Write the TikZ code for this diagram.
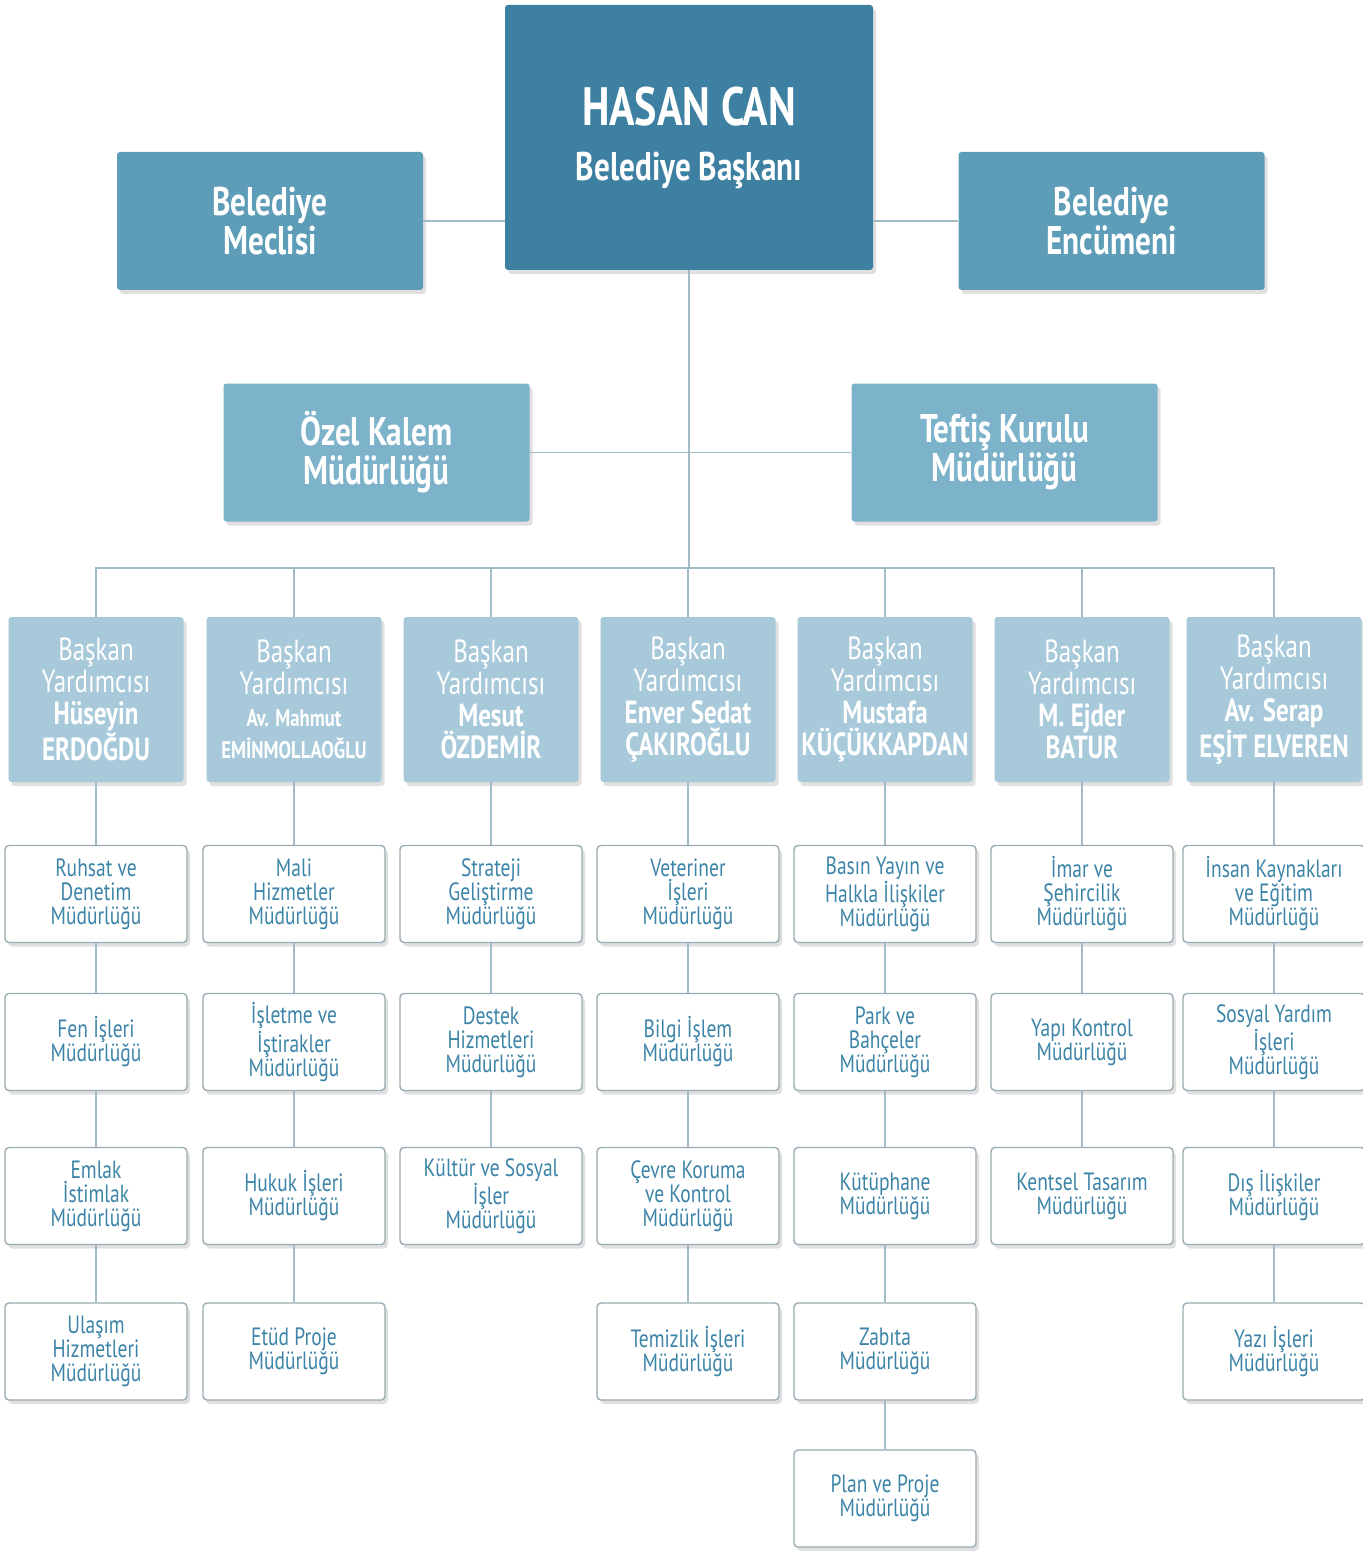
\documentclass[tikz,border=0pt]{standalone}
\usepackage{fontspec}
\setmainfont{PT Sans}[FakeStretch=0.78]
\usetikzlibrary{shadows}

\definecolor{topclr}{HTML}{3D80A1}
\definecolor{sideclr}{HTML}{5E9DB8}
\definecolor{midclr}{HTML}{7DB3CA}
\definecolor{depclr}{HTML}{A7C9DA}
\definecolor{txtclr}{HTML}{3C84A8}
\definecolor{edgeclr}{HTML}{9AABB3}
\definecolor{lineclr}{HTML}{A3BAC7}

\tikzset{
  conn/.style={draw=lineclr, line width=0.75pt},
  shade box/.style={drop shadow={shadow xshift=1.5pt, shadow yshift=-2pt, opacity=0.12, fill=black}},
  mayorbox/.style={fill=topclr, text=white, align=center, inner sep=0pt, rounded corners=1.5pt, shade box,
    minimum width=184pt, minimum height=132.5pt, font=\bfseries\fontsize{20}{27.5}\selectfont},
  councilbox/.style={fill=sideclr, text=white, align=center, inner sep=0pt, rounded corners=1.5pt, shade box,
    minimum width=153pt, minimum height=69pt, font=\bfseries\fontsize{20}{19.5}\selectfont},
  officebox/.style={councilbox, fill=midclr},
  deputybox/.style={fill=depclr, text=white, align=center, inner sep=0pt, rounded corners=1.5pt, shade box,
    minimum width=87.5pt, minimum height=82.5pt, font=\fontsize{16}{16}\selectfont},
  unitbox/.style={fill=white, draw=edgeclr, line width=0.7pt, text=txtclr, align=center, inner sep=0pt,
    rounded corners=2pt, shade box, minimum width=91pt, minimum height=48.5pt, font=\fontsize{12.5}{12}\selectfont},
}

\begin{document}
\begin{tikzpicture}[x=0.5pt, y=-0.5pt]
  \useasboundingbox[fill=white] (0,0) rectangle (1362,1551);

  % mayor and councils
  \node[mayorbox] (mayor) at (689,137.5) {{\fontsize{27}{27.5}\selectfont HASAN CAN}\\Belediye Başkanı};
  \node[councilbox] (meclis) at (270,221) {Belediye\\Meclisi};
  \node[councilbox] (encumen) at (1111.5,221) {Belediye\\Encümeni};

  % offices
  \node[officebox] (ozel) at (376.5,452.5) {Özel Kalem\\Müdürlüğü};
  \node[officebox] (teftis) at (1004.5,452.5) {Teftiş Kurulu\\Müdürlüğü};

  % deputy mayors
  \node[deputybox] (dep1) at (96,699.5) {Başkan\\Yardımcısı\\\textbf{Hüseyin}\\\textbf{ERDOĞDU}};
  \node[deputybox] (dep2) at (294,699.5) {Başkan\\Yardımcısı\\{\bfseries\fontsize{12}{16}\selectfont Av. Mahmut}\\{\bfseries\fontsize{12}{16}\selectfont EMİNMOLLAOĞLU}};
  \node[deputybox] (dep3) at (491,699.5) {Başkan\\Yardımcısı\\\textbf{Mesut}\\\textbf{ÖZDEMİR}};
  \node[deputybox] (dep4) at (688,699.5) {Başkan\\Yardımcısı\\\textbf{Enver Sedat}\\\textbf{ÇAKIROĞLU}};
  \node[deputybox] (dep5) at (885,699.5) {Başkan\\Yardımcısı\\\textbf{Mustafa}\\\textbf{KÜÇÜKKAPDAN}};
  \node[deputybox] (dep6) at (1082,699.5) {Başkan\\Yardımcısı\\\textbf{M. Ejder}\\\textbf{BATUR}};
  \node[deputybox] (dep7) at (1274,699.5) {Başkan\\Yardımcısı\\\textbf{Av. Serap}\\\textbf{EŞİT ELVEREN}};

  % directorates, column 1
  \node[unitbox] (u11) at (96,894) {Ruhsat ve\\Denetim\\Müdürlüğü};
  \node[unitbox] (u12) at (96,1042) {Fen İşleri\\Müdürlüğü};
  \node[unitbox] (u13) at (96,1196) {Emlak\\İstimlak\\Müdürlüğü};
  \node[unitbox] (u14) at (96,1351.5) {Ulaşım\\Hizmetleri\\Müdürlüğü};
  % column 2
  \node[unitbox] (u21) at (294,894) {Mali\\Hizmetler\\Müdürlüğü};
  \node[unitbox] (u22) at (294,1042) {İşletme ve\\İştirakler\\Müdürlüğü};
  \node[unitbox] (u23) at (294,1196) {Hukuk İşleri\\Müdürlüğü};
  \node[unitbox] (u24) at (294,1351.5) {Etüd Proje\\Müdürlüğü};
  % column 3
  \node[unitbox] (u31) at (491,894) {Strateji\\Geliştirme\\Müdürlüğü};
  \node[unitbox] (u32) at (491,1042) {Destek\\Hizmetleri\\Müdürlüğü};
  \node[unitbox] (u33) at (491,1196) {Kültür ve Sosyal\\İşler\\Müdürlüğü};
  % column 4
  \node[unitbox] (u41) at (688,894) {Veteriner\\İşleri\\Müdürlüğü};
  \node[unitbox] (u42) at (688,1042) {Bilgi İşlem\\Müdürlüğü};
  \node[unitbox] (u43) at (688,1196) {Çevre Koruma\\ve Kontrol\\Müdürlüğü};
  \node[unitbox] (u44) at (688,1351.5) {Temizlik İşleri\\Müdürlüğü};
  % column 5
  \node[unitbox] (u51) at (885,894) {Basın Yayın ve\\Halkla İlişkiler\\Müdürlüğü};
  \node[unitbox] (u52) at (885,1042) {Park ve\\Bahçeler\\Müdürlüğü};
  \node[unitbox] (u53) at (885,1196) {Kütüphane\\Müdürlüğü};
  \node[unitbox] (u54) at (885,1351.5) {Zabıta\\Müdürlüğü};
  \node[unitbox] (u55) at (885,1498.5) {Plan ve Proje\\Müdürlüğü};
  % column 6
  \node[unitbox] (u61) at (1082,894) {İmar ve\\Şehircilik\\Müdürlüğü};
  \node[unitbox] (u62) at (1082,1042) {Yapı Kontrol\\Müdürlüğü};
  \node[unitbox] (u63) at (1082,1196) {Kentsel Tasarım\\Müdürlüğü};
  % column 7
  \node[unitbox] (u71) at (1274,894) {İnsan Kaynakları\\ve Eğitim\\Müdürlüğü};
  \node[unitbox] (u72) at (1274,1042) {Sosyal Yardım\\İşleri\\Müdürlüğü};
  \node[unitbox] (u73) at (1274,1196) {Dış İlişkiler\\Müdürlüğü};
  \node[unitbox] (u74) at (1274,1351.5) {Yazı İşleri\\Müdürlüğü};

  % connectors
  \coordinate (bus) at (688,568);
  \draw[conn] (meclis.east) -- (meclis.east -| mayor.west);
  \draw[conn] (encumen.west) -- (encumen.west -| mayor.east);
  \draw[conn] (mayor.south) -- (mayor.south |- bus);
  \draw[conn] (ozel.east) -- (teftis.west);
  \draw[conn] (dep1.north) |- (bus) -| (dep7.north);
  \foreach \d in {2,...,6}
    \draw[conn] (dep\d.north) -- (dep\d.north |- bus);
  \foreach \a/\b in {dep1/u11, u11/u12, u12/u13, u13/u14,
                     dep2/u21, u21/u22, u22/u23, u23/u24,
                     dep3/u31, u31/u32, u32/u33,
                     dep4/u41, u41/u42, u42/u43, u43/u44,
                     dep5/u51, u51/u52, u52/u53, u53/u54, u54/u55,
                     dep6/u61, u61/u62, u62/u63,
                     dep7/u71, u71/u72, u72/u73, u73/u74}
    \draw[conn] (\a.south) -- (\b.north);
\end{tikzpicture}
\end{document}
